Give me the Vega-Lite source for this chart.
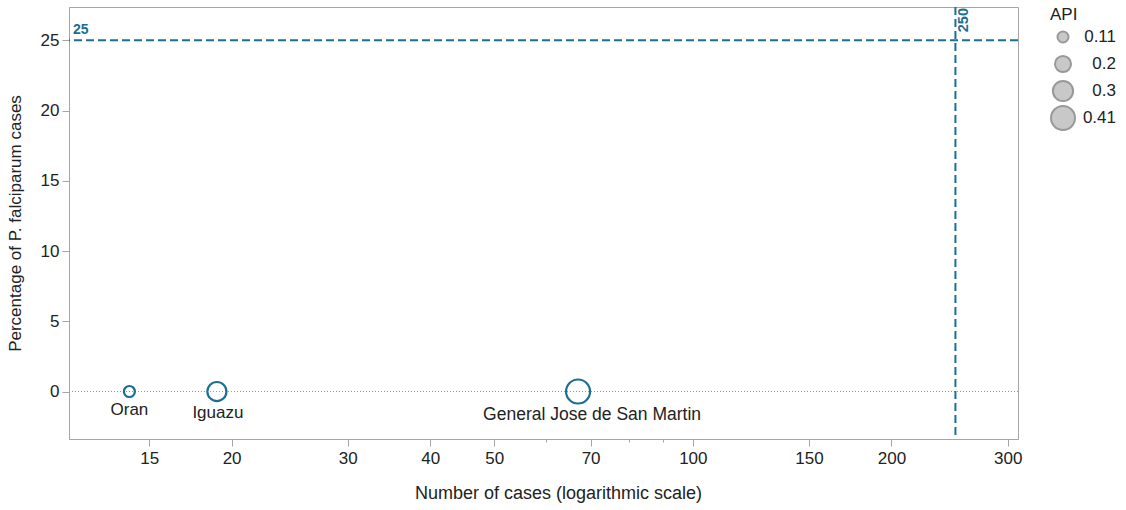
{
  "$schema": "https://vega.github.io/schema/vega-lite/v6.json",
  "width": 949,
  "height": 432,
  "autosize": {"type": "none"},
  "padding": {"left": 69, "top": 7, "right": 108, "bottom": 71},
  "config": {
    "font": "Liberation Sans",
    "view": {"stroke": "#a6a6a6", "strokeWidth": 1},
    "axis": {
      "grid": false,
      "domainColor": "#a6a6a6",
      "tickColor": "#a6a6a6",
      "labelColor": "#222222",
      "titleColor": "#222222",
      "labelFontSize": 17,
      "titleFontSize": 17,
      "titleFontWeight": "normal",
      "labelFont": "Liberation Sans",
      "titleFont": "Liberation Sans"
    },
    "legend": {
      "titleFontSize": 17,
      "titleFontWeight": "normal",
      "labelFontSize": 17,
      "titleColor": "#222222",
      "labelColor": "#222222",
      "titleFont": "Liberation Sans",
      "labelFont": "Liberation Sans",
      "symbolFillColor": "#c8c8c8",
      "symbolStrokeColor": "#999999",
      "symbolStrokeWidth": 2,
      "offset": 32,
      "padding": 0,
      "rowPadding": 1,
      "clipHeight": 26,
      "titlePadding": 0,
      "labelAlign": "right",
      "labelOffset": 40
    }
  },
  "datasets": {
    "districts": [
      {"district": "Oran", "cases": 14, "pf": 0, "API": 0.11},
      {"district": "Iguazu", "cases": 19, "pf": 0, "API": 0.27},
      {"district": "General Jose de San Martin", "cases": 67, "pf": 0, "API": 0.41}
    ],
    "ref": [{"pf": 25, "cases": 250}],
    "zero": [{"pf": 0}]
  },
  "layer": [
    {
      "data": {"name": "zero"},
      "mark": {"type": "rule", "color": "#999999", "strokeWidth": 1, "strokeDash": [1, 2]},
      "encoding": {
        "y": {"field": "pf", "type": "quantitative", "scale": {"domain": [-3.38, 27.37], "nice": false, "zero": false}}
      }
    },
    {
      "data": {"name": "ref"},
      "mark": {"type": "rule", "color": "#1b6f95", "strokeWidth": 2, "strokeDash": [8, 4]},
      "encoding": {
        "y": {"field": "pf", "type": "quantitative", "scale": {"domain": [-3.38, 27.37], "nice": false, "zero": false}}
      }
    },
    {
      "data": {"name": "ref"},
      "mark": {"type": "rule", "color": "#1b6f95", "strokeWidth": 2, "strokeDash": [8, 4]},
      "encoding": {
        "x": {"field": "cases", "type": "quantitative", "scale": {"type": "log", "domain": [11.34, 311], "nice": false, "zero": false}}
      }
    },
    {
      "data": {"name": "ref"},
      "mark": {"type": "text", "color": "#1b6f95", "fontWeight": "bold", "fontSize": 14, "align": "left", "baseline": "bottom", "dx": 4, "dy": -3},
      "encoding": {
        "x": {"datum": 11.34, "type": "quantitative", "scale": {"type": "log", "domain": [11.34, 311], "nice": false, "zero": false}},
        "y": {"field": "pf", "type": "quantitative", "scale": {"domain": [-3.38, 27.37], "nice": false, "zero": false}},
        "text": {"field": "pf", "type": "quantitative"}
      }
    },
    {
      "data": {"name": "ref"},
      "mark": {"type": "text", "color": "#1b6f95", "fontWeight": "bold", "fontSize": 14.5, "angle": 270, "align": "right", "baseline": "top", "dx": -1, "dy": 2},
      "encoding": {
        "x": {"field": "cases", "type": "quantitative", "scale": {"type": "log", "domain": [11.34, 311], "nice": false, "zero": false}},
        "y": {"datum": 27.37, "type": "quantitative", "scale": {"domain": [-3.38, 27.37], "nice": false, "zero": false}},
        "text": {"field": "cases", "type": "quantitative"}
      }
    },
    {
      "data": {"name": "districts"},
      "mark": {"type": "point", "shape": "circle", "filled": false, "stroke": "#1b6f95", "strokeWidth": 2.2, "opacity": 1},
      "encoding": {
        "x": {
          "field": "cases", "type": "quantitative",
          "scale": {"type": "log", "domain": [11.34, 311], "nice": false, "zero": false},
          "axis": {
            "title": "Number of cases (logarithmic scale)",
            "titleFontSize": 18,
            "titleX": 489,
            "values": [15, 20, 30, 40, 50, 60, 70, 80, 90, 100, 150, 200, 300],
            "labelExpr": "indexof([60, 80, 90], datum.value) >= 0 ? '' : datum.label",
            "format": "d",
            "tickSize": {"condition": {"test": "indexof([60, 80, 90], datum.value) >= 0", "value": 3}, "value": 7},
            "labelPadding": 4,
            "titlePadding": 18,
            "labelFlush": false,
            "labelOverlap": false
          }
        },
        "y": {
          "field": "pf", "type": "quantitative",
          "scale": {"domain": [-3.38, 27.37], "nice": false, "zero": false},
          "axis": {
            "title": "Percentage of P. falciparum cases",
            "values": [0, 5, 10, 15, 20, 25],
            "tickSize": 7,
            "labelPadding": 3,
            "titlePadding": 16
          }
        },
        "size": {
          "field": "API", "type": "quantitative",
          "scale": {"domain": [0.11, 0.41], "range": [121, 576]},
          "legend": {
            "title": "API",
            "values": [0.11, 0.2, 0.3, 0.41],
            "format": "~g",
            "encoding": {
              "symbols": {
                "fill": {"value": "#c8c8c8"},
                "fillOpacity": {"value": 1},
                "stroke": {"value": "#999999"},
                "strokeWidth": {"value": 2}
              }
            }
          }
        }
      }
    },
    {
      "data": {"name": "districts"},
      "transform": [{"filter": "datum.district == 'Oran'"}],
      "mark": {"type": "text", "fontSize": 17, "color": "#222222", "baseline": "middle", "dy": 18},
      "encoding": {
        "x": {"field": "cases", "type": "quantitative"},
        "y": {"field": "pf", "type": "quantitative"},
        "text": {"field": "district"}
      }
    },
    {
      "data": {"name": "districts"},
      "transform": [{"filter": "datum.district == 'Iguazu'"}],
      "mark": {"type": "text", "fontSize": 17, "color": "#222222", "baseline": "middle", "dy": 21.5, "dx": 1},
      "encoding": {
        "x": {"field": "cases", "type": "quantitative"},
        "y": {"field": "pf", "type": "quantitative"},
        "text": {"field": "district"}
      }
    },
    {
      "data": {"name": "districts"},
      "transform": [{"filter": "datum.district == 'General Jose de San Martin'"}],
      "mark": {"type": "text", "fontSize": 17.5, "color": "#222222", "baseline": "middle", "dy": 23.5, "dx": 14},
      "encoding": {
        "x": {"field": "cases", "type": "quantitative"},
        "y": {"field": "pf", "type": "quantitative"},
        "text": {"field": "district"}
      }
    }
  ]
}
